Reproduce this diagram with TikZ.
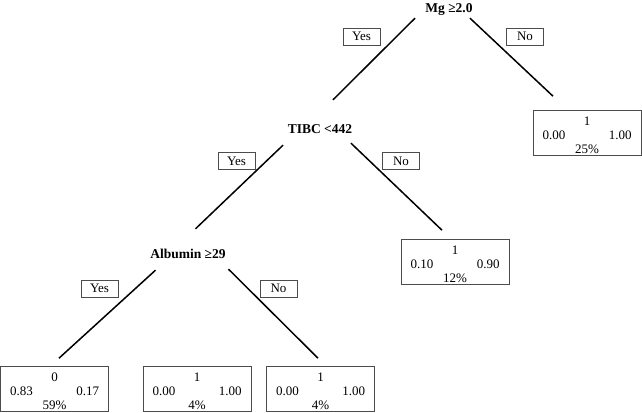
\documentclass[tikz,border=0pt]{standalone}
\usepackage{fontspec}
\setmainfont{Liberation Serif}
\usepackage{tikz}

\newcommand{\leafvals}[4]{\begin{tabular}{@{}c@{}}#1\\\makebox[89pt]{#2\hfill#3}\\#4\end{tabular}}

\begin{document}
\begin{tikzpicture}
  [x=1pt,y=-1pt,
   split/.style={font=\fontsize{13.5}{14}\selectfont\bfseries,inner sep=0pt,text height=9pt,text depth=3pt,anchor=base},
   answer/.style={draw=black!70,line width=.6pt,font=\fontsize{13}{14}\selectfont,inner sep=0pt,minimum width=37pt,minimum height=17pt},
   leaf/.style={draw=black!70,line width=.6pt,font=\fontsize{13}{14}\selectfont,inner sep=0pt,text height=28.75pt,text depth=16.25pt,minimum width=108pt},
   branch/.style={line width=1.5pt}]
  \useasboundingbox (0,0) rectangle (642,412);

  % splits
  \node[split] (mg) at (449,13) {Mg ≥2.0};
  \node[split] (tibc) at (320,133) {TIBC <442};
  \node[split] (alb) at (188,258.5) {Albumin ≥29};

  % leaves
  \node[leaf] (l5) at (587,133) {\leafvals{1}{0.00}{1.00}{25\%}};
  \node[leaf] (l4) at (455,262) {\leafvals{1}{0.10}{0.90}{12\%}};
  \node[leaf] (l1) at (54.5,389) {\leafvals{0}{0.83}{0.17}{59\%}};
  \node[leaf] (l2) at (197,389) {\leafvals{1}{0.00}{1.00}{4\%}};
  \node[leaf] (l3) at (320.5,389) {\leafvals{1}{0.00}{1.00}{4\%}};

  % yes / no
  \node[answer] (yes1) at (361.5,36.5) {Yes};
  \node[answer] (no1) at (525,36.5) {No};
  \node[answer] (yes2) at (236.5,161) {Yes};
  \node[answer] (no2) at (401,161) {No};
  \node[answer] (yes3) at (99.5,288.5) {Yes};
  \node[answer] (no3) at (278.5,288.5) {No};

  % branches
  \draw[branch] ([xshift=-34pt,yshift=-2pt]mg.south) -- ([xshift=13pt,yshift=24pt]tibc.north);
  \draw[branch] ([xshift=21pt,yshift=-2pt]mg.south) -- ([xshift=-34pt,yshift=14pt]l5.north);
  \draw[branch] ([xshift=-37pt,yshift=-9pt]tibc.south) -- ([xshift=7.5pt,yshift=20.5pt]alb.north);
  \draw[branch] ([xshift=31pt,yshift=-7pt]tibc.south) -- ([xshift=-13pt,yshift=9pt]l4.north);
  \draw[branch] ([xshift=-32.5pt,yshift=-8.5pt]alb.south) -- ([xshift=4.5pt,yshift=8pt]l1.north);
  \draw[branch] ([xshift=40.5pt,yshift=-7.5pt]alb.south) -- ([xshift=-2.5pt,yshift=8pt]l3.north);

\end{tikzpicture}
\end{document}
